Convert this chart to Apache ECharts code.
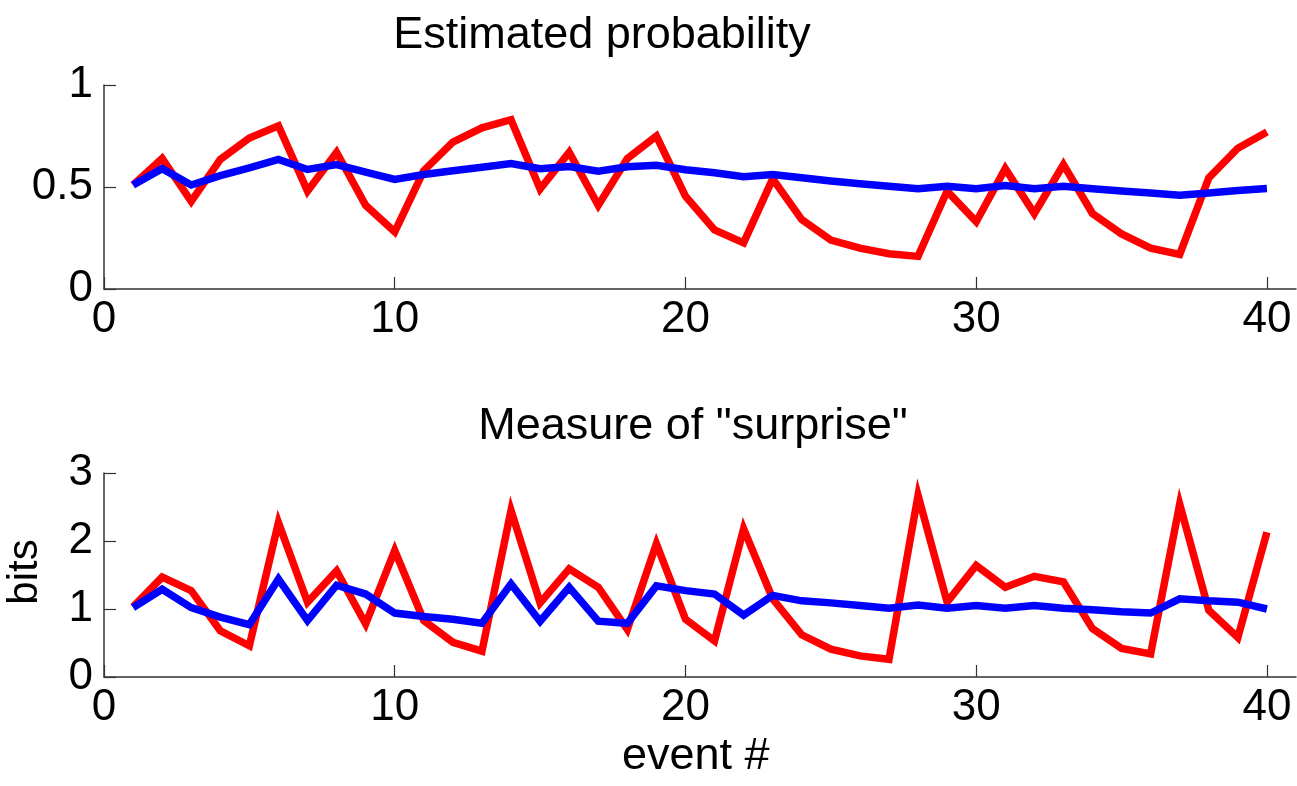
<!DOCTYPE html>
<html>
<head>
<meta charset="utf-8">
<script src="https://cdn.jsdelivr.net/npm/echarts@6/dist/echarts.min.js"></script>
<style>
	html, body { margin: 0; padding: 0; background: #fff; }
	#chart { width: 1297px; height: 786px; }
</style>
</head>
<body>
<div id="chart"></div>
<script>
// event numbers on the x axis
var events = [1, 2, 3, 4, 5, 6, 7, 8, 9, 10, 11, 12, 13, 14, 15, 16, 17, 18, 19, 20,
	21, 22, 23, 24, 25, 26, 27, 28, 29, 30, 31, 32, 33, 34, 35, 36, 37, 38, 39, 40];

// top panel: estimated probability
var probRed = [0.51, 0.64, 0.43, 0.635, 0.74, 0.80, 0.48, 0.67, 0.41, 0.28,
	0.58, 0.72, 0.79, 0.83, 0.49, 0.67, 0.41, 0.64, 0.75, 0.455,
	0.29, 0.226, 0.54, 0.34, 0.24, 0.20, 0.173, 0.16, 0.48, 0.33,
	0.59, 0.37, 0.61, 0.37, 0.27, 0.20, 0.17, 0.545, 0.69, 0.77];
var probBlue = [0.51, 0.59, 0.51, 0.556, 0.594, 0.635, 0.586, 0.61, 0.573, 0.537,
	0.561, 0.58, 0.597, 0.615, 0.59, 0.60, 0.578, 0.599, 0.607, 0.585,
	0.57, 0.55, 0.561, 0.545, 0.529, 0.516, 0.504, 0.491, 0.504, 0.491,
	0.507, 0.491, 0.504, 0.491, 0.48, 0.471, 0.46, 0.471, 0.483, 0.493];

// bottom panel: surprise in bits
var bitsRed = [1.03, 1.47, 1.27, 0.68, 0.46, 2.27, 1.10, 1.56, 0.78, 1.86,
	0.83, 0.51, 0.38, 2.45, 1.09, 1.59, 1.32, 0.70, 1.96, 0.85,
	0.53, 2.18, 1.15, 0.62, 0.41, 0.31, 0.26, 2.67, 1.10, 1.64,
	1.32, 1.48, 1.40, 0.71, 0.42, 0.34, 2.54, 0.98, 0.58, 2.13];
var bitsBlue = [1.02, 1.29, 1.02, 0.88, 0.77, 1.44, 0.83, 1.35, 1.22, 0.94,
	0.89, 0.85, 0.79, 1.37, 0.82, 1.32, 0.82, 0.79, 1.34, 1.27,
	1.22, 0.91, 1.20, 1.12, 1.09, 1.05, 1.01, 1.06, 1.01, 1.05,
	1.01, 1.05, 1.01, 0.99, 0.96, 0.94, 1.15, 1.12, 1.10, 1.00];

// tick labels
var xTicks = [0, 10, 20, 30, 40];
var probTicks = [0, 0.5, 1];
var bitsTicks = [0, 1, 2, 3];

var FONT = 'Liberation Sans';

function pairs(ys) {
	return events.map(function (x, i) { return [x, ys[i]]; });
}

function xAxisFor(gridIndex) {
	return {
		type: 'value', gridIndex: gridIndex, min: 0, max: 41,
		axisLine: { show: true, lineStyle: { color: '#333', width: 1.5 } },
		axisTick: { show: true, inside: true, length: 12, customValues: xTicks, lineStyle: { color: '#333', width: 1.2 } },
		axisLabel: { customValues: xTicks, margin: 9, color: '#000', fontSize: 44, fontFamily: FONT },
		splitLine: { show: false }
	};
}

function yAxisFor(gridIndex, ticks) {
	return {
		type: 'value', gridIndex: gridIndex, min: 0, max: ticks[ticks.length - 1],
		axisLine: { show: true, lineStyle: { color: '#333', width: 1.5 } },
		axisTick: { show: true, inside: true, length: 12, customValues: ticks, lineStyle: { color: '#333', width: 1.2 } },
		axisLabel: { customValues: ticks, margin: 11, color: '#000', fontSize: 44, fontFamily: FONT },
		splitLine: { show: false }
	};
}

function lineSeries(idx, data, color) {
	return {
		type: 'line', xAxisIndex: idx, yAxisIndex: idx, data: data,
		showSymbol: false, symbol: 'none', animation: false,
		lineStyle: { color: color, width: 7.5, join: 'miter' }
	};
}

function GenerateChart() {
	var chart = echarts.init(document.getElementById('chart'), null, { renderer: 'canvas' });

	chart.setOption({
		backgroundColor: '#fff',
		title: [
			{ text: 'Estimated probability', left: 597, top: 8, textAlign: 'center',
				textStyle: { fontSize: 45, fontWeight: 'normal', color: '#000', fontFamily: FONT } },
			{ text: 'Measure of "surprise"', left: 688, top: 399, textAlign: 'center',
				textStyle: { fontSize: 45, fontWeight: 'normal', color: '#000', fontFamily: FONT } }
		],
		grid: [
			{ left: 104, top: 85, width: 1192, height: 204 },
			{ left: 104, top: 473, width: 1192, height: 204 }
		],
		xAxis: [xAxisFor(0), xAxisFor(1)],
		yAxis: [yAxisFor(0, probTicks), yAxisFor(1, bitsTicks)],
		graphic: [
			{ type: 'text', left: 697 - 75, top: 734,
				style: { text: 'event #', fontSize: 45, fontFamily: FONT, fill: '#000' } },
			{ type: 'text', x: 25, y: 572, rotation: Math.PI / 2,
				style: { text: 'bits', fontSize: 42, fontFamily: FONT, fill: '#000', align: 'center', verticalAlign: 'middle' } }
		],
		series: [
			lineSeries(0, pairs(probRed), '#ff0000'),
			lineSeries(0, pairs(probBlue), '#0000ff'),
			lineSeries(1, pairs(bitsRed), '#ff0000'),
			lineSeries(1, pairs(bitsBlue), '#0000ff')
		]
	});
}

GenerateChart();
</script>
</body>
</html>
